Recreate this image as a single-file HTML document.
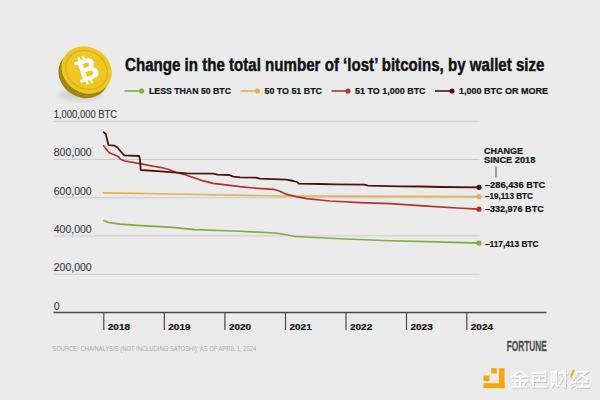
<!DOCTYPE html>
<html><head><meta charset="utf-8"><style>
html,body{margin:0;padding:0;background:#ebebeb;width:600px;height:400px;overflow:hidden}
svg{display:block}
</style></head><body>
<svg width="600" height="400" viewBox="0 0 600 400">

<defs><filter id="bl" x="-50%" y="-50%" width="200%" height="200%"><feGaussianBlur stdDeviation="2"/></filter></defs><ellipse cx="80" cy="95" rx="22" ry="6" fill="#d4d4d4" filter="url(#bl)"/>
<ellipse cx="83.6" cy="74.5" rx="26" ry="22.8" fill="#9e8614" transform="rotate(31 83.6 74.5)"/>
<ellipse cx="86.6" cy="70" rx="26" ry="22.8" fill="#efc724" transform="rotate(31 86.6 70)"/>
<ellipse cx="86.6" cy="70" rx="21.5" ry="18.8" fill="none" stroke="#dbb21a" stroke-width="1.3" transform="rotate(31 86.6 70)"/>
<g transform="translate(87 69.5) rotate(-19) scale(0.92 0.97) translate(-8 -11)" fill="#fff">
<path fill-rule="evenodd" d="M -3,0 H 10 C 15,0 17.5,2.5 17.5,5.5 C 17.5,8 16,9.6 14,10.4 C 17,11.3 19,13.6 19,16.6 C 19,20 16.5,22 11,22 H -3 V 19 H 0.5 V 3 H -3 Z M 5.4,4.2 H 9.3 C 10.9,4.2 11.8,5 11.8,6.4 C 11.8,7.8 10.9,8.6 9.3,8.6 H 5.4 Z M 5.4,13 H 10.3 C 12.3,13 13.3,14.1 13.3,15.6 C 13.3,17.1 12.3,18.2 10.3,18.2 H 5.4 Z"/>
<rect x="2.2" y="-3.8" width="2.6" height="4"/><rect x="7.2" y="-3.8" width="2.6" height="4"/>
<rect x="2.2" y="21.8" width="2.6" height="4"/><rect x="7.2" y="21.8" width="2.6" height="4"/>
</g>

<line x1="53.5" y1="121.25" x2="479.3" y2="121.25" stroke="#cdcdcd" stroke-width="1"/>
<line x1="53.5" y1="159.5" x2="479.3" y2="159.5" stroke="#cdcdcd" stroke-width="1"/>
<line x1="53.5" y1="197.7" x2="479.3" y2="197.7" stroke="#cdcdcd" stroke-width="1"/>
<line x1="53.5" y1="235.9" x2="479.3" y2="235.9" stroke="#cdcdcd" stroke-width="1"/>
<line x1="53.5" y1="274.2" x2="479.3" y2="274.2" stroke="#cdcdcd" stroke-width="1"/>
<line x1="53.5" y1="312.4" x2="546.5" y2="312.4" stroke="#4a4a4a" stroke-width="1.5"/>
<line x1="103.8" y1="312.4" x2="103.8" y2="330" stroke="#4a4a4a" stroke-width="1.2"/>
<line x1="164.3" y1="312.4" x2="164.3" y2="330" stroke="#4a4a4a" stroke-width="1.2"/>
<line x1="224.9" y1="312.4" x2="224.9" y2="330" stroke="#4a4a4a" stroke-width="1.2"/>
<line x1="285.5" y1="312.4" x2="285.5" y2="330" stroke="#4a4a4a" stroke-width="1.2"/>
<line x1="346" y1="312.4" x2="346" y2="330" stroke="#4a4a4a" stroke-width="1.2"/>
<line x1="406.5" y1="312.4" x2="406.5" y2="330" stroke="#4a4a4a" stroke-width="1.2"/>
<line x1="466.8" y1="312.4" x2="466.8" y2="330" stroke="#4a4a4a" stroke-width="1.2"/>
<text x="107.8" y="329.5" font-family="Liberation Sans" font-size="8.9" font-weight="bold" fill="#161616" stroke="#161616" stroke-width="0.22" textLength="22.2" lengthAdjust="spacingAndGlyphs">2018</text>
<text x="168.3" y="329.5" font-family="Liberation Sans" font-size="8.9" font-weight="bold" fill="#161616" stroke="#161616" stroke-width="0.22" textLength="22.2" lengthAdjust="spacingAndGlyphs">2019</text>
<text x="228.9" y="329.5" font-family="Liberation Sans" font-size="8.9" font-weight="bold" fill="#161616" stroke="#161616" stroke-width="0.22" textLength="22.2" lengthAdjust="spacingAndGlyphs">2020</text>
<text x="289.5" y="329.5" font-family="Liberation Sans" font-size="8.9" font-weight="bold" fill="#161616" stroke="#161616" stroke-width="0.22" textLength="22.2" lengthAdjust="spacingAndGlyphs">2021</text>
<text x="350" y="329.5" font-family="Liberation Sans" font-size="8.9" font-weight="bold" fill="#161616" stroke="#161616" stroke-width="0.22" textLength="22.2" lengthAdjust="spacingAndGlyphs">2022</text>
<text x="410.5" y="329.5" font-family="Liberation Sans" font-size="8.9" font-weight="bold" fill="#161616" stroke="#161616" stroke-width="0.22" textLength="22.2" lengthAdjust="spacingAndGlyphs">2023</text>
<text x="470.8" y="329.5" font-family="Liberation Sans" font-size="8.9" font-weight="bold" fill="#161616" stroke="#161616" stroke-width="0.22" textLength="22.2" lengthAdjust="spacingAndGlyphs">2024</text>
<text x="53.7" y="118.1" font-family="Liberation Sans" font-size="10" fill="#3c3c3c" stroke="#3c3c3c" stroke-width="0.12" textLength="63.4" lengthAdjust="spacingAndGlyphs">1,000,000 BTC</text>
<text x="53.7" y="156.3" font-family="Liberation Sans" font-size="10" fill="#3c3c3c" stroke="#3c3c3c" stroke-width="0.12" textLength="38" lengthAdjust="spacingAndGlyphs">800,000</text>
<text x="53.7" y="194.6" font-family="Liberation Sans" font-size="10" fill="#3c3c3c" stroke="#3c3c3c" stroke-width="0.12" textLength="38" lengthAdjust="spacingAndGlyphs">600,000</text>
<text x="53.7" y="232.8" font-family="Liberation Sans" font-size="10" fill="#3c3c3c" stroke="#3c3c3c" stroke-width="0.12" textLength="38" lengthAdjust="spacingAndGlyphs">400,000</text>
<text x="53.7" y="270.9" font-family="Liberation Sans" font-size="10" fill="#3c3c3c" stroke="#3c3c3c" stroke-width="0.12" textLength="38" lengthAdjust="spacingAndGlyphs">200,000</text>
<text x="53.7" y="309.5" font-family="Liberation Sans" font-size="10" fill="#3c3c3c" stroke="#3c3c3c" stroke-width="0.12" textLength="5.9" lengthAdjust="spacingAndGlyphs">0</text>
<polyline points="102.7,192.9 175,194 280,196 400,196.3 479,196.7" fill="none" stroke="#e3b255" stroke-width="1.7"/>
<polyline points="103.3,220.3 108.3,222.5 120,224.2 145,225.8 170,227.2 195,229.7 240,231.25 275,233 285,234.5 295,236.5 315,237.5 340,238.75 383,240.5 436.7,241.8 479,243.1" fill="none" stroke="#82ad42" stroke-width="1.7" stroke-linejoin="round"/>
<polyline points="103.2,145.2 106.2,149 109.2,152.7 113,154.2 118.2,156.5 120.5,159.2 125,161 140,163.7 147.5,165.2 155,166.5 160,167.3 168,169.3 176,172.3 186.7,175.3 194.7,178 202.7,180.7 213.3,183.3 224,184.7 240,186.7 253.3,188 273.3,189.3 280,191.3 286.7,194.4 296,196.7 306.7,198.7 320,200 330,201 360,202.6 390,203.7 423,205.8 456.7,208 479,209.2" fill="none" stroke="#b5322a" stroke-width="1.7" stroke-linejoin="round"/>
<polyline points="103.2,131.7 105.8,134 108.5,145.2 114.5,145.7 117.5,147.5 121.2,152 124.2,155.3 139.2,156 140,159.5 140.7,170 161,171.3 173.3,172.3 186.7,173.3 213.3,173.7 217.3,174.7 229.3,175 233.3,176.7 240,177.3 256,177.7 260,178.7 286.7,179.6 293.3,181 297.3,182 298.7,183.6 320,184 336,184.4 364,184.6 368,185.6 400,186.3 422,186.5 440,187 479,187.3" fill="none" stroke="#4c130f" stroke-width="1.8" stroke-linejoin="round"/>
<circle cx="479" cy="187.3" r="2.6" fill="#4c130f"/>
<circle cx="479" cy="196.7" r="2.6" fill="#e3b255"/>
<circle cx="479" cy="209.2" r="2.6" fill="#b5322a"/>
<circle cx="479" cy="243.1" r="2.6" fill="#82ad42"/>
<text x="484" y="154.2" font-family="Liberation Sans" font-size="8.8" font-weight="bold" fill="#161616" stroke="#161616" stroke-width="0.22" textLength="39" lengthAdjust="spacingAndGlyphs">CHANGE</text>
<text x="484" y="163.2" font-family="Liberation Sans" font-size="8.8" font-weight="bold" fill="#161616" stroke="#161616" stroke-width="0.22" textLength="51.4" lengthAdjust="spacingAndGlyphs">SINCE 2018</text>
<line x1="496" y1="166.5" x2="496" y2="177.6" stroke="#3a3a3a" stroke-width="0.9"/>
<text x="484.9" y="187.9" font-family="Liberation Sans" font-size="9" font-weight="bold" fill="#161616" stroke="#161616" stroke-width="0.22" textLength="60.4" lengthAdjust="spacingAndGlyphs">–286,436 BTC</text>
<text x="484.9" y="199" font-family="Liberation Sans" font-size="9" font-weight="bold" fill="#161616" stroke="#161616" stroke-width="0.22" textLength="48.1" lengthAdjust="spacingAndGlyphs">–19,113 BTC</text>
<text x="484.9" y="212.3" font-family="Liberation Sans" font-size="9" font-weight="bold" fill="#161616" stroke="#161616" stroke-width="0.22" textLength="58.8" lengthAdjust="spacingAndGlyphs">–332,976 BTC</text>
<text x="484.9" y="247" font-family="Liberation Sans" font-size="9" font-weight="bold" fill="#161616" stroke="#161616" stroke-width="0.22" textLength="53.6" lengthAdjust="spacingAndGlyphs">–117,413 BTC</text>
<line x1="124.5" y1="91" x2="141.6" y2="91" stroke="#82ad42" stroke-width="1.6"/><circle cx="141.6" cy="91" r="2.6" fill="#82ad42"/>
<line x1="240.5" y1="91" x2="257.5" y2="91" stroke="#e3b255" stroke-width="1.6"/><circle cx="257.5" cy="91" r="2.6" fill="#e3b255"/>
<line x1="331.6" y1="91" x2="348" y2="91" stroke="#b5322a" stroke-width="1.6"/><circle cx="348" cy="91" r="2.6" fill="#b5322a"/>
<line x1="435" y1="91" x2="452" y2="91" stroke="#4c130f" stroke-width="1.6"/><circle cx="452" cy="91" r="2.6" fill="#4c130f"/>
<text x="149" y="94.4" font-family="Liberation Sans" font-size="8.8" font-weight="bold" fill="#161616" stroke="#161616" stroke-width="0.22" textLength="82" lengthAdjust="spacingAndGlyphs">LESS THAN 50 BTC</text>
<text x="264.5" y="94.4" font-family="Liberation Sans" font-size="8.8" font-weight="bold" fill="#161616" stroke="#161616" stroke-width="0.22" textLength="57.5" lengthAdjust="spacingAndGlyphs">50 TO 51 BTC</text>
<text x="355" y="94.4" font-family="Liberation Sans" font-size="8.8" font-weight="bold" fill="#161616" stroke="#161616" stroke-width="0.22" textLength="70.6" lengthAdjust="spacingAndGlyphs">51 TO 1,000 BTC</text>
<text x="459" y="94.4" font-family="Liberation Sans" font-size="8.8" font-weight="bold" fill="#161616" stroke="#161616" stroke-width="0.22" textLength="89" lengthAdjust="spacingAndGlyphs">1,000 BTC OR MORE</text>
<text x="125" y="70.8" font-family="Liberation Sans" font-size="18.3" font-weight="bold" fill="#111" stroke="#111" stroke-width="0.45" textLength="419.5" lengthAdjust="spacingAndGlyphs">Change in the total number of ‘lost’ bitcoins, by wallet size</text>
<text x="52.3" y="350.8" font-family="Liberation Sans" font-size="7.6" fill="#ababab" textLength="204" lengthAdjust="spacingAndGlyphs">SOURCE: CHAINALYSIS (NOT INCLUDING SATOSHI); AS OF APRIL 1, 2024</text>
<text x="506.8" y="350.8" font-family="Liberation Sans" font-size="14" font-weight="bold" fill="#505050" stroke="#505050" stroke-width="0.3" textLength="40" lengthAdjust="spacingAndGlyphs">FORTUNE</text>

<g fill="#f5a800">
<rect x="499" y="368.2" width="5.5" height="19.9"/>
<rect x="483.5" y="383.2" width="21" height="4.9"/>
<rect x="491.2" y="368.2" width="5.6" height="5.2"/>
<rect x="483.5" y="375.5" width="5.9" height="5.6"/>
</g>

<g fill="none" stroke="#c4c4c4" stroke-width="1.9" stroke-linecap="square" transform="translate(0.8 0.9)">
<path d="M520,371.2 L512.2,376.8 M520,371.2 L527.8,376.8 M514.6,376.8 H525.4 M512.6,380.8 H527.4 M520,376.8 V386.6 M515,382.4 L516,384.4 M525,382.4 L524,384.4 M512.2,386.7 H527.8"/>
<path d="M532.6,373.3 H543.2 M545.6,371.2 V381.1 M533,376.3 H545.6 M533,381.1 H545.6 M533,376.3 V386.7 M539.2,376.3 V381.1 M532.6,386.7 H546.6"/>
<path d="M551.8,371.8 H556.3 V383.6 M551.8,371.8 V384 M554,373.5 V381 M553.8,383.4 L551.6,386.6 M555.8,383.4 L557.6,386 M559.2,373.3 H567.2 M565.2,369.8 V386.8 L563.4,386 M564.6,374.6 L559.6,383.2"/>
<path d="M571.2,376.6 H574.8 L570.8,383.4 L575.4,382.2 M570.8,386.8 L575.6,384.6 M577.3,371.8 H587 L577.3,379.3 M581,375.4 L587.6,379.2 M578,381.9 H587.4 M582.5,381.9 V386.7 M576.9,386.8 H588.5"/>
</g>
<g fill="none" stroke="#fcfcfc" stroke-width="1.9" stroke-linecap="square">
<path d="M520,371.2 L512.2,376.8 M520,371.2 L527.8,376.8 M514.6,376.8 H525.4 M512.6,380.8 H527.4 M520,376.8 V386.6 M515,382.4 L516,384.4 M525,382.4 L524,384.4 M512.2,386.7 H527.8"/>
<path d="M532.6,373.3 H543.2 M545.6,371.2 V381.1 M533,376.3 H545.6 M533,381.1 H545.6 M533,376.3 V386.7 M539.2,376.3 V381.1 M532.6,386.7 H546.6"/>
<path d="M551.8,371.8 H556.3 V383.6 M551.8,371.8 V384 M554,373.5 V381 M553.8,383.4 L551.6,386.6 M555.8,383.4 L557.6,386 M559.2,373.3 H567.2 M565.2,369.8 V386.8 L563.4,386 M564.6,374.6 L559.6,383.2"/>
<path d="M571.2,376.6 H574.8 L570.8,383.4 L575.4,382.2 M570.8,386.8 L575.6,384.6 M577.3,371.8 H587 L577.3,379.3 M581,375.4 L587.6,379.2 M578,381.9 H587.4 M582.5,381.9 V386.7 M576.9,386.8 H588.5"/>
</g>
<path d="M573.6,370.8 L571,376.4" stroke="#e8b62a" stroke-width="2.2" stroke-linecap="round"/>
</svg>
</body></html>
